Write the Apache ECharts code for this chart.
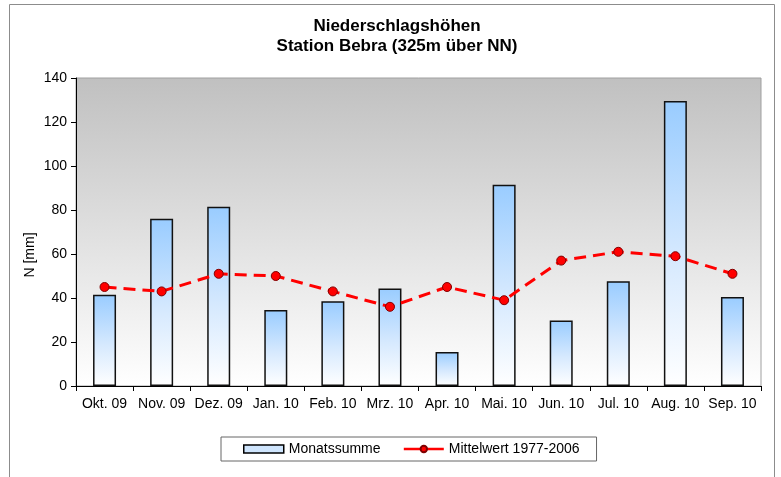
<!DOCTYPE html>
<html>
<head>
<meta charset="utf-8">
<script src="https://cdn.jsdelivr.net/npm/echarts@6/dist/echarts.min.js"></script>
<style>
  html, body { margin: 0; padding: 0; background: #fff; }
  #ct { width: 781px; height: 477px; }
</style>
</head>
<body>
<div id="ct"></div>
<script>
const months = ["Okt. 09", "Nov. 09", "Dez. 09", "Jan. 10", "Feb. 10", "Mrz. 10",
  "Apr. 10", "Mai. 10", "Jun. 10", "Jul. 10", "Aug. 10", "Sep. 10"];
// Monatssumme
const monthly = [41.5, 76, 81.5, 34.5, 38.5, 44.3, 15.5, 91.5, 29.8, 47.6, 129.5, 40.5];
// Mittelwert 1977-2006
const mean = [45, 43, 51, 50, 43, 36, 45, 39, 57, 61, 59, 51];

const font = "Liberation Sans, Arial, sans-serif";
const chart = echarts.init(document.getElementById("ct"));

const barFill = new echarts.graphic.LinearGradient(0, 0, 0, 1, [
  { offset: 0, color: "#99ccff" },
  { offset: 0.55, color: "#d6e9fe" },
  { offset: 1, color: "#ffffff" }
]);

const option = {
  animation: false,
  backgroundColor: "#fff",
  textStyle: { fontFamily: font },
  title: {
    text: "Niederschlagshöhen\nStation Bebra (325m über NN)",
    left: 392,
    top: 11,
    textAlign: "center",
    textStyle: { fontSize: 17, fontWeight: "bold", color: "#000", lineHeight: 20, fontFamily: font }
  },
  graphic: [
    {
      type: "rect",
      shape: { x: 9.5, y: 4.5, width: 765, height: 490 },
      style: { fill: null, stroke: "#8c8c8c", lineWidth: 1 },
      silent: true
    },
    {
      type: "text",
      x: 30,
      y: 255,
      rotation: Math.PI / 2,
      style: { text: "N [mm]", font: "14px " + font, fill: "#000", align: "center", verticalAlign: "middle" },
      silent: true
    }
  ],
  legend: {
    left: 221,
    top: 437,
    padding: [5, 17, 5, 22],
    itemGap: 22,
    itemWidth: 40,
    itemHeight: 8,
    borderColor: "#666",
    borderWidth: 1,
    textStyle: { fontSize: 14, color: "#000", fontFamily: font },
    data: [
      { name: "Monatssumme", icon: "rect", itemStyle: { color: "#cfe5fd", borderColor: "#000", borderWidth: 1.5 } },
      { name: "Mittelwert 1977-2006", lineStyle: { type: "solid", width: 2.5, color: "#ff0000" } }
    ]
  },
  grid: {
    left: 76,
    right: 20,
    top: 78,
    bottom: 91,
    show: true,
    borderColor: "#a0a0a0",
    borderWidth: 1,
    backgroundColor: new echarts.graphic.LinearGradient(0, 0, 0, 1, [
      { offset: 0, color: "#c0c0c0" },
      { offset: 1, color: "#ffffff" }
    ])
  },
  xAxis: {
    type: "category",
    data: months,
    axisLine: { lineStyle: { color: "#000", width: 1 } },
    axisTick: { show: true, interval: 0, length: 5, lineStyle: { color: "#000" } },
    axisLabel: { interval: 0, fontSize: 14, color: "#000", margin: 11, fontFamily: font }
  },
  yAxis: {
    type: "value",
    min: 0,
    max: 140,
    interval: 20,
    axisLine: { show: true, lineStyle: { color: "#000", width: 1 } },
    axisTick: { show: true, length: 5, lineStyle: { color: "#000" } },
    axisLabel: { fontSize: 14, color: "#000", margin: 9, fontFamily: font },
    splitLine: { show: false }
  },
  series: [
    {
      name: "Monatssumme",
      type: "bar",
      data: monthly,
      barWidth: 23,
      itemStyle: { color: barFill, borderColor: "#111", borderWidth: 1.5 }
    },
    {
      name: "Mittelwert 1977-2006",
      type: "line",
      data: mean,
      symbol: "circle",
      symbolSize: 9,
      lineStyle: { color: "#ff0000", width: 3, type: [12, 7] },
      itemStyle: { color: "#ff0000", borderColor: "#800000", borderWidth: 1 },
      z: 5
    }
  ]
};

chart.setOption(option);
</script>
</body>
</html>
